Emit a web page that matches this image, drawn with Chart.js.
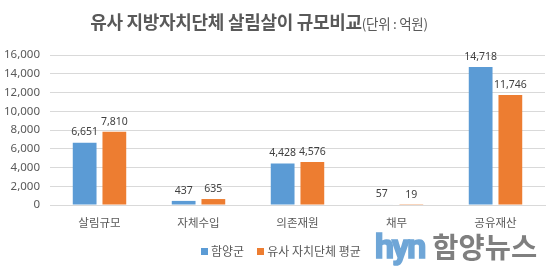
<!DOCTYPE html>
<html><head><meta charset="utf-8">
<script src="https://cdn.jsdelivr.net/npm/chart.js@4/dist/chart.umd.min.js"></script>
<style>
html,body{margin:0;padding:0;background:#fff;}
#wrap{position:relative;width:559px;height:270px;overflow:hidden;font-family:"Noto Sans CJK KR","Noto Sans",sans-serif;}
canvas{position:absolute;left:0;top:0;}
#title{position:absolute;top:8px;left:0;width:518px;text-align:center;color:#595959;white-space:nowrap;}
#title .main{font-size:18px;font-weight:bold;letter-spacing:-0.3px;}
#title .unit{font-size:13.5px;letter-spacing:-0.3px;}
#legend{position:absolute;top:242px;left:201px;font-size:12px;color:#595959;white-space:nowrap;}
#legend span.sw{display:inline-block;width:7px;height:7px;margin-right:3px;vertical-align:1px;}
#legend .item{margin-right:13px;}
#logo{position:absolute;top:225px;left:375px;white-space:nowrap;}
#logo .hyn{font-family:"Roboto","Liberation Sans",sans-serif;font-weight:bold;font-size:34px;color:#6fa6d7;letter-spacing:-2px;-webkit-text-stroke:1.6px #6fa6d7;}
#logo .kr{font-weight:bold;font-size:28.5px;color:#7f7f7f;margin-left:8px;letter-spacing:0px;}
</style></head>
<body>
<div id="wrap">
<canvas id="c" width="559" height="270"></canvas>
<div id="title"><span class="main">유사 지방자치단체 살림살이 규모비교</span><span class="unit">(단위 : 억원)</span></div>
<div id="legend"></div>
<div id="logo"><span class="hyn">hyn</span><span class="kr">함양뉴스</span></div>
</div>
<script>
const categories = ["살림규모","자체수입","의존재원","채무","공유재산"];
const seriesNames = ["함양군","유사 자치단체 평균"];
const hamyang = [6651, 437, 4428, 57, 14718];
const similarAvg = [7810, 635, 4576, 19, 11746];
const yTicks = [0,2000,4000,6000,8000,10000,12000,14000,16000];
const colors = ["#5B9BD5","#ED7D31"];

const legendEl = document.getElementById('legend');
seriesNames.forEach((n,i)=>{
  const s = document.createElement('span'); s.className='item';
  s.innerHTML = '<span class="sw" style="background:'+colors[i]+'"></span>'+n;
  legendEl.appendChild(s);
});

const fmt = v => v.toLocaleString('en-US');

const labelPlugin = {
  id:'barLabels',
  afterDatasetsDraw(chart){
    const ctx = chart.ctx;
    ctx.save();
    ctx.font = '10.5px "Noto Sans", sans-serif';
    ctx.fillStyle = '#404040';
    ctx.textAlign = 'center';
    ctx.textBaseline = 'bottom';
    chart.data.datasets.forEach((ds,di)=>{
      const meta = chart.getDatasetMeta(di);
      meta.data.forEach((bar,i)=>{
        ctx.fillText(fmt(ds.data[i]), bar.x, bar.y - 5);
      });
    });
    ctx.restore();
  }
};

new Chart(document.getElementById('c'),{
  type:'bar',
  data:{
    labels:categories,
    datasets:[
      {label:seriesNames[0],data:hamyang,backgroundColor:colors[0]},
      {label:seriesNames[1],data:similarAvg,backgroundColor:colors[1]}
    ]
  },
  options:{
    responsive:false,
    animation:false,
    devicePixelRatio:1,
    datasets:{bar:{categoryPercentage:0.6,barPercentage:0.8}},
    layout:{padding:{left:0,right:14,top:55,bottom:35}},
    plugins:{legend:{display:false},title:{display:false},tooltip:{enabled:false}},
    scales:{
      x:{
        grid:{display:false,drawTicks:false},
        border:{display:true,color:'#d9d9d9'},
        ticks:{color:'#595959',font:{size:11.5,family:'"Noto Sans CJK KR", "Noto Sans", sans-serif'},padding:11},
        afterFit(s){s.height=30;}
      },
      y:{
        min:0,max:16000,
        afterBuildTicks(s){s.ticks = yTicks.map(v=>({value:v}));},
        grid:{color:'#d9d9d9',drawTicks:false},
        border:{display:false},
        ticks:{color:'#595959',font:{size:11.5,family:'"Noto Sans", sans-serif'},padding:10,callback:v=>fmt(v)},
        afterFit(s){s.width=50;}
      }
    }
  },
  plugins:[labelPlugin]
});
</script>
</body></html>
